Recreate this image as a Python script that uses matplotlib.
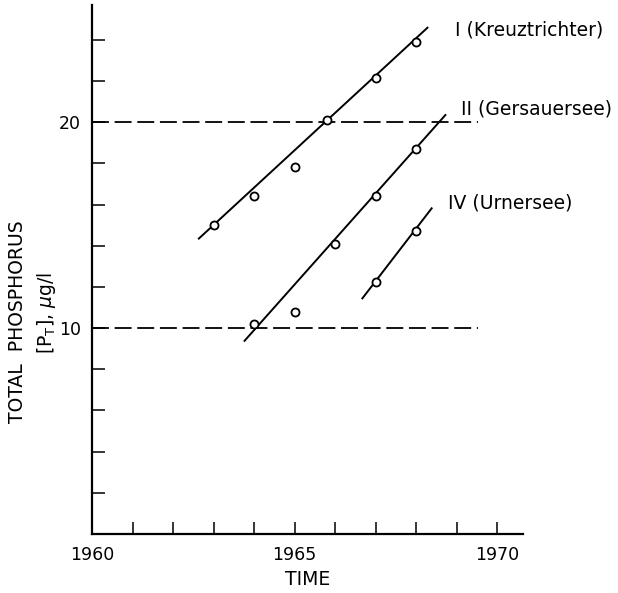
import matplotlib
matplotlib.use("Agg")
import matplotlib.pyplot as plt
from matplotlib.ticker import FixedLocator, NullFormatter, FixedFormatter

plt.rcParams['font.family'] = ['DejaVu Sans']
plt.rcParams['lines.scale_dashes'] = False

# Data
I_years = [1963, 1964, 1965, 1965.8, 1967, 1968]
I_vals = [15.0, 16.4, 17.85, 20.1, 22.15, 23.9]
I_fit_x = [1962.62, 1968.30]
I_fit_y = [14.32, 24.63]

II_years = [1964, 1965, 1966, 1967, 1968]
II_vals = [10.2, 10.8, 14.1, 16.4, 18.7]
II_fit_x = [1963.75, 1968.74]
II_fit_y = [9.35, 20.39]

IV_years = [1967, 1968]
IV_vals = [12.25, 14.7]
IV_fit_x = [1966.66, 1968.40]
IV_fit_y = [11.41, 15.86]

ref_levels = [10, 20]
ref_x = [1960, 1969.53]

labels = ["I (Kreuztrichter)", "II (Gersauersee)", "IV (Urnersee)"]
label_pos = [(1968.96, 24.5), (1969.11, 20.63), (1968.79, 16.07)]

x_major = [1960, 1965, 1970]
x_minor = list(range(1961, 1971))
y_major = [10, 20]
y_minor = list(range(2, 26, 2))

fig = plt.figure(figsize=(6.18, 5.93), dpi=100)
ax = fig.add_axes([92/618, 59/593, (523-92)/618, (534-5)/593])

for lvl in ref_levels:
    ax.plot(ref_x, [lvl, lvl], color='black', lw=1.3, linestyle=(0, (12.2, 4.1)))

for fx, fy in [(I_fit_x, I_fit_y), (II_fit_x, II_fit_y), (IV_fit_x, IV_fit_y)]:
    ax.plot(fx, fy, color='black', lw=1.4, solid_capstyle='butt')

for xs, ys in [(I_years, I_vals), (II_years, II_vals), (IV_years, IV_vals)]:
    ax.plot(xs, ys, linestyle='none', marker='o', ms=5.8, mfc='white',
            mec='black', mew=1.3, zorder=5)

for txt, (tx, ty) in zip(labels, label_pos):
    ax.text(tx, ty, txt, fontsize=13.5, ha='left', va='center', clip_on=False)

ax.set_xlim(1960, 1970.64)
ax.set_ylim(0, 25.7)

ax.spines['top'].set_visible(False)
ax.spines['right'].set_visible(False)
ax.spines['left'].set_linewidth(1.6)
ax.spines['bottom'].set_linewidth(1.6)

ax.xaxis.set_major_locator(FixedLocator(x_major))
ax.xaxis.set_major_formatter(FixedFormatter([str(v) for v in x_major]))
ax.xaxis.set_minor_locator(FixedLocator(x_minor))
ax.yaxis.set_major_locator(FixedLocator(y_major))
ax.yaxis.set_major_formatter(FixedFormatter([str(v) for v in y_major]))
ax.yaxis.set_minor_locator(FixedLocator(y_minor))
ax.yaxis.set_minor_formatter(NullFormatter())
ax.xaxis.set_minor_formatter(NullFormatter())

ax.tick_params(which='both', direction='in', length=9, width=1.1, colors='black')
ax.tick_params(axis='x', which='major', pad=9, labelsize=12.5)
ax.tick_params(axis='y', which='major', pad=8, labelsize=12.5)

ax.set_xlabel("TIME", fontsize=13.5, labelpad=4)

fig.text(18/618, 1 - 322/593, "TOTAL  PHOSPHORUS", rotation=90, fontsize=13.5,
         ha='center', va='center')
fig.text(46/618, 1 - 313/593, r"[P$_\mathregular{T}$], $\mu$g/l", rotation=90,
         fontsize=13.5, ha='center', va='center')

fig.savefig("out.png", dpi=100)
